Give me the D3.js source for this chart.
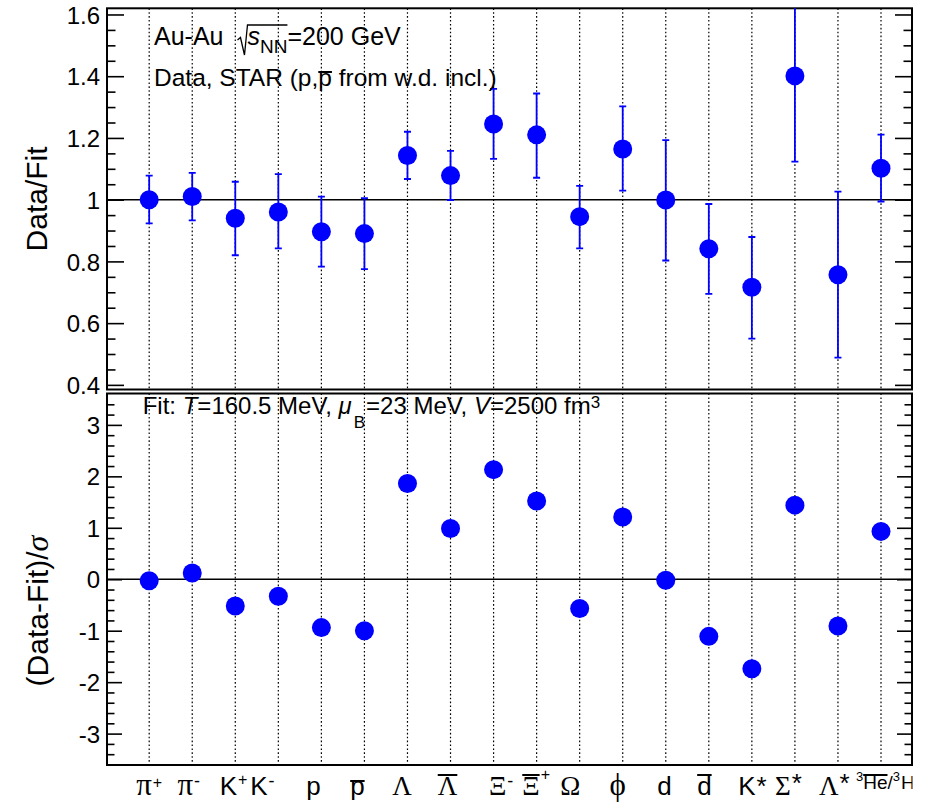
<!DOCTYPE html>
<html><head><meta charset="utf-8">
<script src="https://cdn.jsdelivr.net/npm/d3@7/dist/d3.min.js"></script>
<style>body{margin:0;background:#fff} svg{display:block} text{white-space:pre}</style>
</head><body>
<svg id="c" width="928" height="811"></svg>
<script>
// ---------------- data ----------------
const categories = ["π+","π-","K+","K-","p","p̄","Λ","Λ̄","Ξ-","Ξ̄+","Ω","φ","d","d̄","K*","Σ*","Λ*","3He̅/3H"];
const ratio     = [1.000, 1.010, 0.940, 0.960, 0.896, 0.890, 1.143, 1.078, 1.245, 1.210, 0.945, 1.164, 0.999, 0.841, 0.716, 1.401, 0.757, 1.102];
const ratioLow  = [0.923, 0.933, 0.820, 0.842, 0.783, 0.775, 1.067, 0.999, 1.132, 1.071, 0.842, 1.029, 0.803, 0.695, 0.550, 1.123, 0.488, 0.994];
const ratioHigh = [1.078, 1.087, 1.058, 1.083, 1.010, 1.005, 1.220, 1.158, 1.359, 1.344, 1.045, 1.302, 1.193, 0.986, 0.879, 1.679, 1.026, 1.211];
const deviation = [-0.03, 0.12, -0.52, -0.33, -0.94, -1.00, 1.86, 0.985, 2.13, 1.52, -0.57, 1.21, -0.02, -1.11, -1.74, 1.44, -0.91, 0.93];
const ratioTicks = [0.4, 0.6, 0.8, 1.0, 1.2, 1.4, 1.6];
const ratioTickLabels = ["0.4","0.6","0.8","1","1.2","1.4","1.6"];
const devTicks = [-3, -2, -1, 0, 1, 2, 3];
const devTickLabels = ["-3","-2","-1","0","1","2","3"];

// ---------------- layout ----------------
const SANS = "'Liberation Sans', Arial, Helvetica, sans-serif";
const SERIF = "'Liberation Serif', 'Times New Roman', serif";
const L = 107, R = 912;
const T1 = 8.3, B1 = 389.5, T2 = 393.5, B2 = 765;
const BLUE = "#0000ff";

const svg = d3.select("#c");
const x = d3.scaleLinear().domain([-0.98, 17.72]).range([L, R]);
const yTop = d3.scaleLinear().domain([0.385, 1.62]).range([B1, T1]);
const yBot = d3.scaleLinear().domain([-3.61, 3.61]).range([B2, T2]);

const defs = svg.append("defs");
defs.append("clipPath").attr("id","clipTop").append("rect").attr("x",L).attr("y",T1).attr("width",R-L).attr("height",B1-T1);
defs.append("clipPath").attr("id","clipBot").append("rect").attr("x",L).attr("y",T2).attr("width",R-L).attr("height",B2-T2);
defs.append("clipPath").attr("id","clipLab").append("rect").attr("x",0).attr("y",T2).attr("width",R+0.5).attr("height",811);

function rich(g, x0, y, parts, opts) {
  opts = opts || {};
  const items = []; let cx = 0;
  parts.forEach(p => {
    cx += p.dx || 0;
    const t = g.append("text")
      .attr("y", y + (p.dy || 0))
      .attr("xml:space", "preserve")
      .style("font-family", p.serif ? SERIF : SANS)
      .style("font-size", (p.size || opts.size) + "px")
      .style("font-style", p.italic ? "italic" : "normal")
      .attr("fill", "#000").text(p.t);
    const w = t.node().getComputedTextLength();
    items.push({t, p, off: cx, w});
    cx += w;
  });
  const start = opts.anchor === "middle" ? x0 - cx / 2 : x0;
  items.forEach(it => {
    it.x = start + it.off;
    it.t.attr("x", it.x);
    if (it.p.bar != null) {
      const inset = it.p.barInset || 0;
      g.append("line").attr("x1", it.x + inset).attr("x2", it.x + it.w - inset)
        .attr("y1", y - it.p.bar).attr("y2", y - it.p.bar)
        .attr("stroke", "#000").attr("stroke-width", 2);
    }
  });
  return items;
}

function panel(y, top, bottom, ticks, tickLabels, minorStep, majLen, minLen) {
  const g = svg.append("g");
  g.append("g").selectAll("line").data(categories).join("line")
    .attr("x1", (d,i) => x(i)).attr("x2", (d,i) => x(i))
    .attr("y1", top).attr("y2", bottom)
    .attr("stroke", "#000").attr("stroke-width", 1.2).attr("stroke-dasharray", "1.6,2.3");
  const [d0, d1] = y.domain();
  const minor = d3.range(Math.ceil(d0 / minorStep), Math.floor(d1 / minorStep) + 1)
    .map(k => +(k * minorStep).toFixed(4))
    .filter(v => !ticks.some(t => Math.abs(t - v) < 1e-6) && y(v) > top + 1.5 && y(v) < bottom - 1.5);
  const axL = g.append("g").attr("transform", `translate(${L},0)`)
    .call(d3.axisLeft(y).tickValues(ticks).tickSize(-majLen).tickPadding(7)
      .tickFormat((d,i) => tickLabels[i]));
  axL.select(".domain").remove();
  axL.selectAll("line").attr("stroke-width", 1.6);
  axL.selectAll("text").style("font-family", SANS).style("font-size", "24px").attr("fill","#000").attr("dy","0.36em");
  const axLm = g.append("g").attr("transform", `translate(${L},0)`)
    .call(d3.axisLeft(y).tickValues(minor).tickSize(-minLen).tickFormat(""));
  axLm.select(".domain").remove(); axLm.selectAll("line").attr("stroke-width", 1.6);
  const axR = g.append("g").attr("transform", `translate(${R},0)`)
    .call(d3.axisRight(y).tickValues(ticks).tickSize(-majLen).tickFormat(""));
  axR.select(".domain").remove(); axR.selectAll("line").attr("stroke-width", 1.6);
  const axRm = g.append("g").attr("transform", `translate(${R},0)`)
    .call(d3.axisRight(y).tickValues(minor).tickSize(-minLen).tickFormat(""));
  axRm.select(".domain").remove(); axRm.selectAll("line").attr("stroke-width", 1.6);
  g.append("rect").attr("x", L).attr("y", top).attr("width", R - L).attr("height", bottom - top)
    .attr("fill", "none").attr("stroke", "#000").attr("stroke-width", 2);
  return g;
}

// ---------------- top panel ----------------
const gT = panel(yTop, T1, B1, ratioTicks, ratioTickLabels, 0.05, 17, 8.5);
gT.append("line").attr("x1", L).attr("x2", R).attr("y1", yTop(1)).attr("y2", yTop(1))
  .attr("stroke", "#000").attr("stroke-width", 1.5);
const eb = gT.append("g").attr("clip-path", "url(#clipTop)");
eb.selectAll("line.bar").data(ratio).join("line").attr("class","bar")
  .attr("x1", (d,i) => x(i)).attr("x2", (d,i) => x(i))
  .attr("y1", (d,i) => yTop(ratioLow[i])).attr("y2", (d,i) => yTop(ratioHigh[i]))
  .attr("stroke", BLUE).attr("stroke-width", 1.8);
eb.selectAll("line.capl").data(ratioLow).join("line").attr("class","capl")
  .attr("x1", (d,i) => x(i) - 3.5).attr("x2", (d,i) => x(i) + 3.5)
  .attr("y1", d => yTop(d)).attr("y2", d => yTop(d)).attr("stroke", BLUE).attr("stroke-width", 1.8);
eb.selectAll("line.caph").data(ratioHigh).join("line").attr("class","caph")
  .attr("x1", (d,i) => x(i) - 3.5).attr("x2", (d,i) => x(i) + 3.5)
  .attr("y1", d => yTop(d)).attr("y2", d => yTop(d)).attr("stroke", BLUE).attr("stroke-width", 1.8);
eb.selectAll("circle").data(ratio).join("circle")
  .attr("cx", (d,i) => x(i)).attr("cy", d => yTop(d)).attr("r", 9.5).attr("fill", BLUE);

// texts in top panel
const txt = svg.append("g");
const l1 = rich(txt, 154, 45, [
  {t: "Au-Au"},
  {t: "s", italic: true, dx: 24},
  {t: "NN", size: 19, dy: 8},
  {t: "=200 GeV"}
], {size: 25});
{
  const xs = l1[1].x - 10, xe = l1[2].x + l1[2].w;
  txt.append("path").attr("d", `M${xs},40 L${xs+3},37.5 L${xs+7},55 L${xs+10},25 L${xe},25`)
    .attr("fill", "none").attr("stroke", "#000").attr("stroke-width", 1.3);
}
rich(txt, 154, 86, [
  {t: "Data, STAR (p,"},
  {t: "p", bar: 14},
  {t: " from w.d. incl.)"}
], {size: 24.5});

// ---------------- bottom panel ----------------
const gB = panel(yBot, T2, B2, devTicks, devTickLabels, 0.2, 15, 7.5);
gB.append("line").attr("x1", L).attr("x2", R).attr("y1", yBot(0)).attr("y2", yBot(0))
  .attr("stroke", "#000").attr("stroke-width", 1.5);
gB.append("g").attr("clip-path", "url(#clipBot)").selectAll("circle").data(deviation).join("circle")
  .attr("cx", (d,i) => x(i)).attr("cy", d => yBot(d)).attr("r", 9.5).attr("fill", BLUE);

rich(txt, 142.7, 414, [
  {t: "Fit: "},
  {t: "T", italic: true},
  {t: "=160.5 MeV, "},
  {t: "μ", italic: true},
  {t: "B", size: 17, dy: 14, dx: 2},
  {t: "=23 MeV, ", dx: 1},
  {t: "V", italic: true},
  {t: "=2500 fm"},
  {t: "3", size: 17, dy: -6}
], {size: 24});

// axis titles
svg.append("text").attr("transform", `translate(46.5,${(T1+B1)/2}) rotate(-90)`)
  .attr("text-anchor", "middle").style("font-family", SANS).style("font-size", "30px").text("Data/Fit");
{
  const t = svg.append("text").attr("transform", `translate(48,611) rotate(-90)`)
    .attr("text-anchor", "middle").style("font-family", SANS).style("font-size", "30px");
  t.append("tspan").text("(Data-Fit)/");
  t.append("tspan").style("font-family", SERIF).style("font-style", "italic").style("font-size","32px").text("σ");
}

// ---------------- x labels ----------------
const labelNudge = [0, -3.5, -1.7, -16, -8, -7, -5.4, -3, 7.5, -0.5, -9.3, -5, -1.4, -4.4, 0.5, -6.5, -3.6, 0];
const greekGlyph = {"π": "π", "Λ": "Λ", "Ξ": "Ξ", "Ω": "Ω", "φ": "ϕ", "Σ": "Σ"};
function labelParts(name) {
  const S = 26, SUP = 16;
  if (name === "3He̅/3H") return null;
  const base = name[0];
  const hasBar = name.includes("\u0304");
  const rest = name.replace("\u0304", "").slice(1);
  const isG = base in greekGlyph;
  const lower = base === "π" || base === "φ";
  const size = isG ? (lower ? 31 : 27) : S;
  const parts = [{t: isG ? greekGlyph[base] : base, serif: isG, size,
    bar: hasBar ? (base === "p" ? 14 : 20) : null, barInset: isG ? 0 : 0}];
  if (rest === "+") parts.push({t: "+", size: SUP, dy: hasBar ? -15 : (isG ? -7 : -10), dx: 1});
  else if (rest === "-") parts.push({t: "-", size: SUP + 2, dy: -8, dx: 1});
  else if (rest === "*") parts.push({t: "*", size: S, dx: 1, dy: isG ? -3 : 0});
  return parts;
}
const labs = svg.append("g").attr("clip-path", "url(#clipLab)");
categories.forEach((name, i) => {
  const parts = labelParts(name);
  if (parts) {
    rich(labs, x(i) + labelNudge[i], 795, parts, {anchor: "middle", size: 26});
  } else {
    rich(labs, x(i - 1) + 18, 789, [
      {t: "3", size: 13, dy: -8},
      {t: "He", size: 19, bar: 14},
      {t: "/", size: 19},
      {t: "3", size: 13, dy: -8},
      {t: "H", size: 19, dx: 1}
    ], {size: 19});
  }
});
</script>
</body></html>
